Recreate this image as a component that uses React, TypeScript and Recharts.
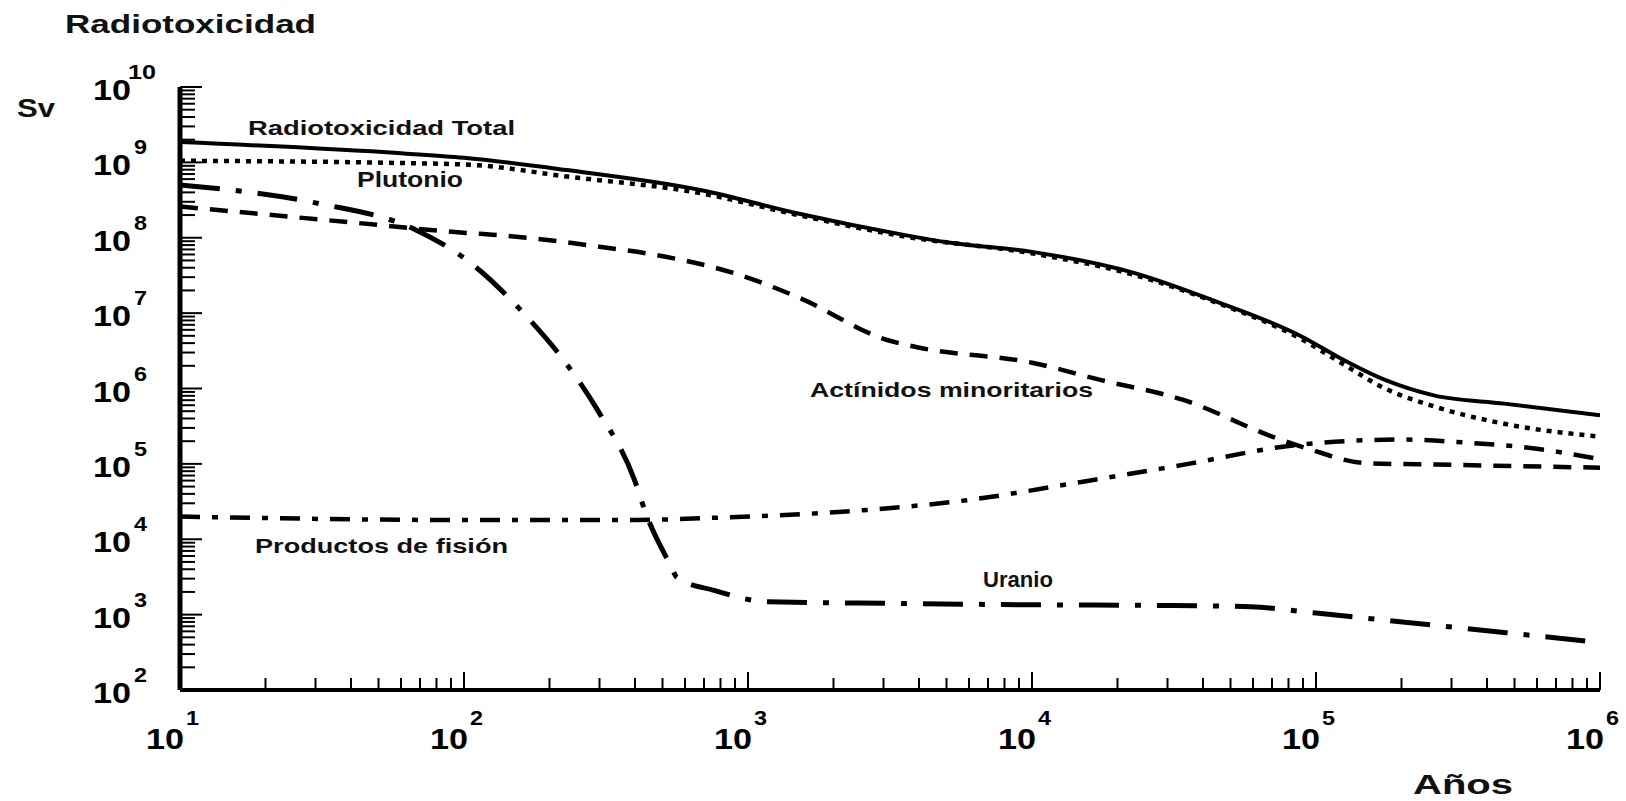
import React from 'react';
import { LineChart, Line, XAxis, YAxis } from 'recharts';

// ---- data (years, Sv) ----
const totalYears = [10, 60, 100, 230, 680, 1500, 3500, 5000, 10000, 23000, 43000, 90000, 120000, 175000, 260000, 460000, 1000000];
const totalSv = [1.86e9, 1.32e9, 1.15e9, 7.9e8, 4.3e8, 2.1e8, 1.1e8, 8.7e7, 6.5e7, 3.4e7, 1.5e7, 4.8e6, 2.6e6, 1.3e6, 8.1e5, 6.3e5, 4.4e5];

const plutonioYears = [10, 60, 105, 230, 680, 1500, 3500, 10000, 23000, 43000, 90000, 120000, 175000, 260000, 460000, 1000000];
const plutonioSv = [1.05e9, 9.8e8, 9.3e8, 6.5e8, 3.9e8, 2.0e8, 1.05e8, 6.2e7, 3.2e7, 1.45e7, 4.4e6, 2.3e6, 1.0e6, 5.8e5, 3.4e5, 2.3e5];

const actinidosYears = [10, 40, 105, 126, 300, 513, 891, 1514, 3090, 3980, 10000, 17400, 33900, 72400, 93300, 151000, 263000, 1000000];
const actinidosSv = [2.6e8, 1.6e8, 1.15e8, 1.1e8, 7.6e7, 5.6e7, 3.4e7, 1.6e7, 4.4e6, 3.5e6, 2.2e6, 1.3e6, 7.1e5, 2.2e5, 1.6e5, 1.02e5, 9.8e4, 8.9e4];

const uranioYears = [10, 30, 68, 105, 162, 224, 295, 398, 437, 537, 562, 759, 1175, 3160, 10000, 31600, 58900, 100000, 214000, 468000, 1000000];
const uranioSv = [5.0e8, 2.9e8, 1.26e8, 4.7e7, 1.0e7, 2.4e6, 5.2e5, 6.2e4, 2.2e4, 4.3e3, 3.1e3, 2.1e3, 1.48e3, 1.41e3, 1.35e3, 1.32e3, 1.27e3, 1.05e3, 780, 575, 427];

const fisionYears = [10, 100, 400, 680, 2630, 5900, 15100, 35500, 81300, 200000, 347000, 589000, 1000000];
const fisionSv = [2.0e4, 1.8e4, 1.8e4, 1.9e4, 2.45e4, 3.3e4, 5.8e4, 1.0e5, 1.74e5, 2.1e5, 1.9e5, 1.6e5, 1.15e5];

const xDecades = [1, 2, 3, 4, 5, 6];
const yDecades = [2, 3, 4, 5, 6, 7, 8, 9, 10];

const toRows = (xs: number[], ys: number[]) => xs.map((t, i) => ({ t, v: ys[i] }));

const makeTicks = (from: number, to: number) => {
  const out: number[] = [];
  for (let d = from; d < to; d++) {
    for (let m = 1; m <= 9; m++) out.push(m * Math.pow(10, d));
  }
  out.push(Math.pow(10, to));
  return out;
};

const xTicks = makeTicks(xDecades[0], xDecades[xDecades.length - 1]);
const yTicks = makeTicks(yDecades[0], yDecades[yDecades.length - 1]);

const FONT = '"Liberation Sans", Arial, Helvetica, sans-serif';

const isDecade = (v: number) => {
  const l = Math.log10(v);
  return Math.abs(l - Math.round(l)) < 1e-9;
};

const YTick = (props: any) => {
  const { x, y, payload } = props;
  const v = payload.value;
  const major = isDecade(v);
  const e = Math.round(Math.log10(v));
  const len = major ? 22 : 15;
  return (
    <g>
      <line x1={x} y1={y} x2={x + len} y2={y} stroke="#000" strokeWidth={2} />
      {major && (
        <g fontFamily={FONT} fontWeight="bold" fill="#000">
          <text x={93} y={y + 13} fontSize={30} textLength={38} lengthAdjust="spacingAndGlyphs">10</text>
          <text x={e >= 10 ? 128 : 134} y={y - 8} fontSize={21} textLength={e >= 10 ? 28 : 13} lengthAdjust="spacingAndGlyphs">{String(e)}</text>
        </g>
      )}
    </g>
  );
};

const XTick = (props: any) => {
  const { x, y, payload } = props;
  const v = payload.value;
  const major = isDecade(v);
  const e = Math.round(Math.log10(v));
  const len = major ? 18 : 12;
  return (
    <g>
      <line x1={x} y1={y} x2={x} y2={y - len} stroke="#000" strokeWidth={2} />
      {major && (
        <g fontFamily={FONT} fontWeight="bold" fill="#000">
          <text x={x - 34} y={y + 59} fontSize={30} textLength={38} lengthAdjust="spacingAndGlyphs">10</text>
          <text x={x + 6} y={y + 35} fontSize={21} textLength={13} lengthAdjust="spacingAndGlyphs">{String(e)}</text>
        </g>
      )}
    </g>
  );
};

type Ann = { text: string; x: number; y: number; size: number; w: number };
const annotations: Ann[] = [
  { text: 'Radiotoxicidad', x: 65, y: 33, size: 25, w: 251 },
  { text: 'Sv', x: 17, y: 117, size: 25, w: 38 },
  { text: 'Radiotoxicidad Total', x: 248, y: 135, size: 21, w: 267 },
  { text: 'Plutonio', x: 357, y: 187, size: 22, w: 106 },
  { text: 'Actínidos minoritarios', x: 810, y: 397, size: 21, w: 283 },
  { text: 'Productos de fisión', x: 255, y: 553, size: 21, w: 253 },
  { text: 'Uranio', x: 983, y: 587, size: 22, w: 70 },
  { text: 'Años', x: 1413, y: 794, size: 28, w: 100 },
];

export default function App() {
  const W = 1626;
  const H = 801;
  return (
    <div style={{ position: 'absolute', left: 0, top: 0, width: W, height: H, background: '#fff' }}>
      <LineChart width={W} height={H} margin={{ top: 87, right: 26, bottom: 51, left: 0 }}>
        <XAxis
          dataKey="t"
          type="number"
          scale="log"
          domain={[10, 1e6]}
          allowDataOverflow
          ticks={xTicks}
          interval={0}
          height={60}
          tickSize={0}
          tickMargin={0}
          tickLine={false}
          axisLine={{ stroke: '#000', strokeWidth: 4 }}
          tick={<XTick />}
        />
        <YAxis
          dataKey="v"
          type="number"
          scale="log"
          domain={[100, 1e10]}
          allowDataOverflow
          ticks={yTicks}
          interval={0}
          width={180}
          tickSize={0}
          tickMargin={0}
          tickLine={false}
          axisLine={{ stroke: '#000', strokeWidth: 5 }}
          tick={<YTick />}
        />
        <Line data={toRows(actinidosYears, actinidosSv)} dataKey="v" type="monotone" stroke="#000" strokeWidth={4.5} strokeDasharray="18 12" dot={false} isAnimationActive={false} />
        <Line data={toRows(fisionYears, fisionSv)} dataKey="v" type="monotone" stroke="#000" strokeWidth={4.5} strokeDasharray="20 12 6 12" dot={false} isAnimationActive={false} />
        <Line data={toRows(uranioYears, uranioSv)} dataKey="v" type="monotone" stroke="#000" strokeWidth={5} strokeDasharray="40 16 6 16" dot={false} isAnimationActive={false} />
        <Line data={toRows(plutonioYears, plutonioSv)} dataKey="v" type="monotone" stroke="#000" strokeWidth={4.5} strokeDasharray="5 6" dot={false} isAnimationActive={false} />
        <Line data={toRows(totalYears, totalSv)} dataKey="v" type="monotone" stroke="#000" strokeWidth={4} dot={false} isAnimationActive={false} />
      </LineChart>
      <svg width={W} height={H} style={{ position: 'absolute', left: 0, top: 0, pointerEvents: 'none' }}>
        {annotations.map((a) => (
          <text
            key={a.text}
            x={a.x}
            y={a.y}
            fontSize={a.size}
            fontFamily={FONT}
            fontWeight="bold"
            fill="#111"
            textLength={a.w}
            lengthAdjust="spacingAndGlyphs"
          >
            {a.text}
          </text>
        ))}
      </svg>
    </div>
  );
}
